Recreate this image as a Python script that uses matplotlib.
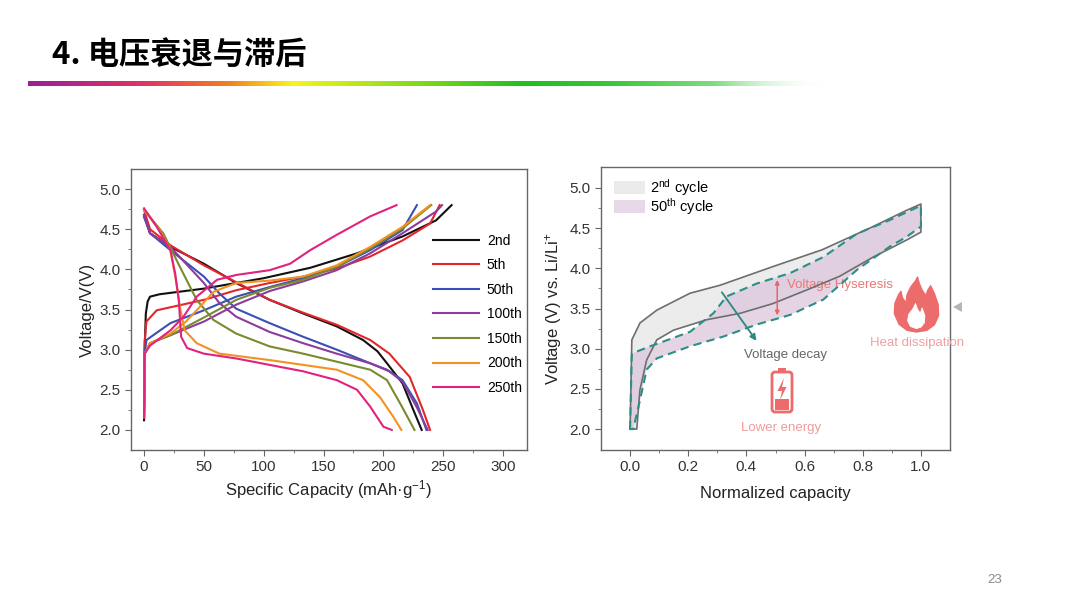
import numpy as np
import matplotlib
matplotlib.use("Agg")
import matplotlib.pyplot as plt
from matplotlib.colors import LinearSegmentedColormap
from matplotlib.patches import Polygon, FancyBboxPatch, Rectangle, Patch

plt.rcParams['font.family'] = ['Liberation Sans', 'DejaVu Sans']
plt.rcParams['mathtext.fontset'] = 'custom'
plt.rcParams['mathtext.rm'] = 'Liberation Sans'
plt.rcParams['mathtext.it'] = 'Liberation Sans:italic'
plt.rcParams['mathtext.bf'] = 'Liberation Sans:bold'

title = "4. 电压衰退与滞后"
page_no = "23"

# ---- left panel: charge / discharge curves (capacity mAh/g, voltage V)
cycles = ["2nd", "5th", "50th", "100th", "150th", "200th", "250th"]
colors = ["#111111", "#e3262e", "#3b4fb4", "#8b3c9c", "#7b8a2e", "#f29220", "#e2227c"]

cap_ch = [
    [0, 0.5, 1.5, 3, 5, 13, 50, 100, 139, 178, 216, 244, 257],
    [0, 0.5, 2, 10.6, 50, 77, 105, 133, 161, 189, 216, 239, 247],
    [0, 0.5, 2, 22, 50, 77, 105, 133, 161, 189, 216, 228],
    [0, 0.5, 5, 22, 50, 77, 105, 133, 161, 189, 216, 244, 249],
    [0, 0.5, 5, 22, 50, 77, 105, 133, 161, 189, 216, 240],
    [0, 0.5, 5, 22, 35, 44, 58, 77, 105, 133, 161, 189, 216, 239],
    [0, 0.5, 5, 22, 33, 44, 61, 77, 105, 122, 139, 161, 189, 211],
]
v_ch = [
    [2.12, 3.0, 3.45, 3.6, 3.66, 3.69, 3.76, 3.89, 4.02, 4.2, 4.41, 4.61, 4.8],
    [2.15, 3.1, 3.35, 3.49, 3.62, 3.74, 3.83, 3.91, 4.01, 4.16, 4.36, 4.57, 4.8],
    [2.15, 2.95, 3.12, 3.33, 3.49, 3.66, 3.78, 3.89, 4.03, 4.24, 4.49, 4.8],
    [2.15, 2.95, 3.08, 3.18, 3.35, 3.56, 3.73, 3.85, 3.99, 4.2, 4.45, 4.72, 4.8],
    [2.15, 2.95, 3.08, 3.18, 3.4, 3.62, 3.77, 3.87, 4.03, 4.26, 4.51, 4.8],
    [2.2, 2.95, 3.08, 3.2, 3.35, 3.49, 3.72, 3.83, 3.86, 3.91, 4.05, 4.28, 4.53, 4.8],
    [2.15, 2.95, 3.05, 3.24, 3.41, 3.66, 3.87, 3.93, 3.99, 4.07, 4.24, 4.43, 4.66, 4.8],
]
cap_dis = [
    [0, 5, 22, 50, 77, 105, 133, 161, 183, 195, 203, 216, 225, 232],
    [0, 5, 22, 50, 77, 105, 133, 161, 189, 205, 222, 233, 239],
    [0, 5, 22, 50, 63, 77, 105, 133, 161, 189, 203, 216, 228, 236],
    [0, 5, 22, 50, 63, 77, 105, 133, 161, 189, 205, 216, 228, 237],
    [0, 16, 30, 44, 58, 77, 105, 133, 161, 189, 203, 214, 226],
    [0, 13, 22, 27, 30, 34, 44, 63, 105, 161, 183, 197, 208, 215],
    [0, 10.6, 22, 26, 29, 31, 36, 50, 77, 105, 133, 161, 178, 189, 200, 207],
]
v_dis = [
    [4.68, 4.45, 4.28, 4.07, 3.83, 3.62, 3.45, 3.29, 3.12, 2.98, 2.83, 2.58, 2.25, 2.0],
    [4.74, 4.5, 4.3, 4.05, 3.84, 3.62, 3.46, 3.31, 3.12, 2.95, 2.66, 2.25, 2.0],
    [4.65, 4.45, 4.24, 3.91, 3.7, 3.51, 3.33, 3.16, 3.0, 2.83, 2.75, 2.62, 2.33, 2.0],
    [4.68, 4.45, 4.28, 3.83, 3.58, 3.41, 3.22, 3.08, 2.95, 2.83, 2.73, 2.6, 2.28, 2.0],
    [4.74, 4.45, 4.03, 3.62, 3.37, 3.2, 3.04, 2.95, 2.85, 2.75, 2.62, 2.33, 2.0],
    [4.74, 4.49, 4.24, 3.83, 3.53, 3.24, 3.08, 2.95, 2.87, 2.75, 2.62, 2.41, 2.17, 2.0],
    [4.76, 4.53, 4.24, 3.95, 3.62, 3.16, 3.02, 2.95, 2.89, 2.81, 2.73, 2.62, 2.5, 2.29, 2.04, 2.0],
]

# ---- right panel: normalized capacity loops
q2_ch = [0, 0.006, 0.034, 0.092, 0.206, 0.31, 0.49, 0.66, 0.836, 0.95, 1.0]
v2_ch = [2.0, 3.11, 3.32, 3.48, 3.69, 3.79, 4.02, 4.23, 4.52, 4.72, 4.8]
q2_dis = [1.0, 1.0, 0.95, 0.836, 0.72, 0.607, 0.49, 0.378, 0.263, 0.149, 0.092, 0.057, 0.034, 0.023, 0.0]
v2_dis = [4.8, 4.45, 4.35, 4.14, 3.9, 3.73, 3.56, 3.44, 3.36, 3.23, 3.11, 2.86, 2.49, 2.0, 2.0]

q50_ch = [0.0, 0.006, 0.069, 0.206, 0.286, 0.332, 0.435, 0.55, 0.664, 0.78, 0.893, 1.0]
v50_ch = [2.0, 2.94, 3.03, 3.21, 3.44, 3.65, 3.81, 3.94, 4.14, 4.43, 4.6, 4.78]
q50_dis = [1.0, 1.0, 0.95, 0.893, 0.78, 0.664, 0.55, 0.435, 0.32, 0.206, 0.092, 0.057, 0.034, 0.011, 0.0]
v50_dis = [4.78, 4.52, 4.39, 4.27, 3.98, 3.61, 3.42, 3.3, 3.15, 3.03, 2.88, 2.74, 2.36, 2.0, 2.0]

loop_labels = ["2$^{\\mathrm{nd}}$ cycle", "50$^{\\mathrm{th}}$ cycle"]

fig = plt.figure(figsize=(10.8, 6.08), dpi=100)
fig.patch.set_facecolor("white")

# title + gradient rule
fig.text(52 / 1080, 1 - 55 / 608, title, fontsize=22.5, fontweight="black",
         family=["Noto Sans CJK SC", "DejaVu Sans"], va="center", ha="left", color="black")
grad = fig.add_axes([28 / 1080, 1 - 86 / 608, 800 / 1080, 5.5 / 608])
cmap = LinearSegmentedColormap.from_list("rule", [
    (0.0, (0.60, 0.12, 0.60, 1)), (0.14, (0.88, 0.19, 0.40, 1)), (0.25, (0.95, 0.50, 0.12, 1)),
    (0.33, (0.97, 0.96, 0.10, 1)), (0.45, (0.62, 0.88, 0.10, 1)), (0.62, (0.12, 0.75, 0.12, 1)),
    (0.72, (0.2, 0.78, 0.2, 1)), (0.86, (0.5, 0.86, 0.5, 1)), (1.0, (1.0, 1.0, 1.0, 0))])
grad.imshow(np.linspace(0, 1, 512)[None, :], aspect="auto", cmap=cmap)
grad.axis("off")

fig.text(995 / 1080, 1 - 580 / 608, page_no, fontsize=9.5, color="#8a8a8a", ha="center", va="center")


def style_axes(ax):
    for s in ax.spines.values():
        s.set_color("#666666")
        s.set_linewidth(1.0)
    ax.tick_params(which="both", direction="out", colors="#666666", labelcolor="#333333",
                   labelsize=11, top=False, right=False)
    ax.tick_params(which="major", length=4)
    ax.tick_params(which="minor", length=2.5)


# left panel
ax1 = fig.add_axes([131 / 1080, 1 - 450 / 608, 396 / 1080, 281 / 608])
for i, lab in enumerate(cycles):
    ax1.plot(cap_ch[i], v_ch[i], color=colors[i], lw=1.5, label=lab)
    ax1.plot(cap_dis[i], v_dis[i], color=colors[i], lw=1.5)
ax1.set_xlim(-10.9, 320)
ax1.set_ylim(1.75, 5.25)
ax1.set_xticks(np.arange(0, 301, 50))
ax1.set_xticks(np.arange(25, 320, 50), minor=True)
ax1.set_yticks(np.arange(2.0, 5.01, 0.5))
ax1.set_yticks(np.arange(2.25, 5.1, 0.5), minor=True)
ax1.yaxis.set_major_formatter(plt.FormatStrFormatter("%.1f"))
style_axes(ax1)
ax1.set_xlabel("Specific Capacity (mAh·g$^{-1}$)", fontsize=12, color="#222222", labelpad=3)
ax1.set_ylabel("Voltage/V(V)", fontsize=12, color="#222222", labelpad=3)
ax1.legend(loc="upper left", bbox_to_anchor=(0.762, 0.77), frameon=False, fontsize=10,
           handlelength=3.3, handletextpad=0.6, labelspacing=0.76, borderpad=0, borderaxespad=0)

# right panel
ax2 = fig.add_axes([601 / 1080, 1 - 450 / 608, 349 / 1080, 283 / 608])
loop2_q = np.concatenate([q2_ch, q2_dis])
loop2_v = np.concatenate([v2_ch, v2_dis])
loop50_q = np.concatenate([q50_ch, q50_dis])
loop50_v = np.concatenate([v50_ch, v50_dis])
ax2.fill(loop2_q, loop2_v, color="#ececec", lw=0, zorder=1)
ax2.fill(loop50_q, loop50_v, color="#dcc6dc", alpha=0.75, lw=0, zorder=2)
ax2.plot(loop2_q, loop2_v, color="#6e6e6e", lw=1.2, zorder=3)
ax2.plot(loop50_q, loop50_v, color="#2a9085", lw=1.5, ls=(0, (4, 2.5)), zorder=4)
ax2.set_xlim(-0.1, 1.1)
ax2.set_ylim(1.74, 5.26)
ax2.set_xticks(np.arange(0, 1.01, 0.2))
ax2.set_xticks(np.arange(0.1, 1.1, 0.2), minor=True)
ax2.set_yticks(np.arange(2.0, 5.01, 0.5))
ax2.set_yticks(np.arange(2.25, 5.1, 0.5), minor=True)
ax2.xaxis.set_major_formatter(plt.FormatStrFormatter("%.1f"))
ax2.yaxis.set_major_formatter(plt.FormatStrFormatter("%.1f"))
style_axes(ax2)
ax2.set_xlabel("Normalized capacity", fontsize=12, color="#222222", labelpad=8)
ax2.set_ylabel("Voltage (V) vs. Li/Li$^{+}$", fontsize=12, color="#222222", labelpad=4)
handles = [Patch(facecolor="#ebebeb", edgecolor="none"), Patch(facecolor="#e6d8e6", edgecolor="none")]
ax2.legend(handles, loop_labels, loc="upper left", bbox_to_anchor=(0.037, 0.965), frameon=False,
           fontsize=10.5, handlelength=2.1, handleheight=1.0, handletextpad=0.4, labelspacing=-0.12,
           borderpad=0, borderaxespad=0)

ax2.annotate("", xy=(0.44, 3.07), xytext=(0.31, 3.73),
             arrowprops=dict(arrowstyle="-|>", color="#2a8a80", lw=1.3, mutation_scale=9), zorder=5)
ax2.annotate("", xy=(0.506, 3.38), xytext=(0.506, 3.89),
             arrowprops=dict(arrowstyle="<|-|>", color="#e06868", lw=1.1, mutation_scale=6), zorder=5)
ax2.text(0.54, 3.79, "Voltage Hyseresis", fontsize=9.5, color="#e87878", va="center", ha="left", zorder=2.5)
ax2.text(0.533, 2.92, "Voltage decay", fontsize=9.5, color="#666666", va="center", ha="center")
ax2.text(0.986, 3.07, "Heat dissipation", fontsize=9.5, color="#f0a0a0", va="center", ha="center")
ax2.text(0.52, 2.01, "Lower energy", fontsize=9.5, color="#f09a9a", va="center", ha="center")

# icons on a pixel overlay
ov = fig.add_axes([0, 0, 1, 1], facecolor="none")
ov.set_xlim(0, 1080)
ov.set_ylim(608, 0)
ov.axis("off")

flame_u = [(0.5, 0.0), (0.3, 0.03), (0.13, 0.14), (0.03, 0.33), (0.04, 0.52), (0.12, 0.68),
           (0.17, 0.74), (0.2, 0.62), (0.28, 0.53), (0.3, 0.68), (0.38, 0.82), (0.48, 0.93),
           (0.52, 1.0), (0.56, 0.88), (0.62, 0.76), (0.7, 0.66), (0.74, 0.76), (0.8, 0.84),
           (0.88, 0.7), (0.96, 0.5), (0.97, 0.3), (0.88, 0.13), (0.72, 0.03)]
inner_u = [(0.5, 0.06), (0.37, 0.1), (0.31, 0.2), (0.33, 0.32), (0.42, 0.42), (0.48, 0.52),
           (0.52, 0.42), (0.58, 0.34), (0.62, 0.44), (0.68, 0.3), (0.67, 0.17), (0.6, 0.09)]
fx0, fy0, fw, fh = 893, 332, 47, 55
ov.add_patch(Polygon([(fx0 + fw * u, fy0 - fh * v) for u, v in flame_u], closed=True,
                     facecolor="#ec6b6b", edgecolor="#ec6b6b", lw=1, joinstyle="round"))
ov.add_patch(Polygon([(fx0 + fw * u, fy0 - fh * v) for u, v in inner_u], closed=True,
                     facecolor="white", edgecolor="white", lw=0.5, joinstyle="round"))

ov.add_patch(FancyBboxPatch((772, 372), 20, 40, boxstyle="round,pad=0,rounding_size=3",
                            facecolor="none", edgecolor="#ec6b6b", lw=2))
ov.add_patch(Rectangle((778, 367.5), 8, 4, facecolor="#ec6b6b", edgecolor="none"))
ov.add_patch(Rectangle((775, 399), 14, 10.5, facecolor="#ec6b6b", edgecolor="none"))
bolt = [(784, 378), (777.5, 391), (782, 391), (780, 400), (786.5, 387), (782, 387)]
ov.add_patch(Polygon(bolt, closed=True, facecolor="#ec6b6b", edgecolor="none"))

ov.add_patch(Polygon([(953, 307), (962, 302), (962, 312)], closed=True,
                     facecolor="#b5b5b5", edgecolor="none"))

fig.savefig("out.png", dpi=100, facecolor="white")
